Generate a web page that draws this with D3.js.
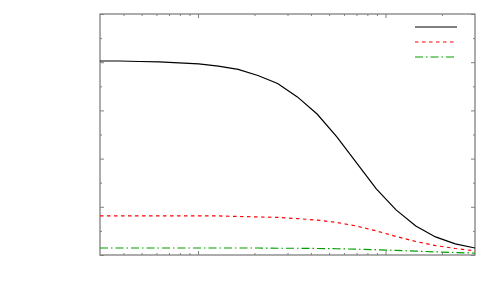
<!DOCTYPE html>
<html>
<head>
<meta charset="utf-8">
<script src="https://cdn.jsdelivr.net/npm/d3@7"></script>
<style>
  html, body { margin: 0; padding: 0; background: #fff; }
  svg { display: block; }
</style>
</head>
<body>
<svg id="chart" width="500" height="300"></svg>
<script>
// ---- data ----
const xValues = d3.range(20).map(i => 3 * Math.pow(10, 2 * i / 19)); // 20 log-spaced samples
const seriesA = [0.805, 0.805, 0.803, 0.801, 0.797, 0.793, 0.784, 0.770, 0.745, 0.712,
                 0.656, 0.585, 0.490, 0.382, 0.274, 0.187, 0.120, 0.075, 0.046, 0.029];
const seriesB = [0.162, 0.162, 0.162, 0.162, 0.162, 0.162, 0.162, 0.160, 0.158, 0.156,
                 0.151, 0.145, 0.135, 0.120, 0.100, 0.077, 0.056, 0.039, 0.027, 0.017];
const seriesC = [0.029, 0.029, 0.029, 0.029, 0.029, 0.029, 0.029, 0.029, 0.029, 0.028,
                 0.028, 0.027, 0.026, 0.024, 0.022, 0.019, 0.016, 0.013, 0.010, 0.008];
const seriesNames = ["", "", ""];
const xMajorTicks = [10, 100];
const xMinorTicks = [4, 5, 6, 7, 8, 9, 20, 30, 40, 50, 60, 70, 80, 90, 200];
const yMajorTicks = [0, 0.2, 0.4, 0.6, 0.8, 1.0];
const yMinorTicks = [0.1, 0.3, 0.5, 0.7, 0.9];

// ---- layout ----
const svg = d3.select("#chart");
const L = 100, R = 475, T = 14, B = 255;
const x = d3.scaleLog().domain([3, 300]).range([L, R]);
const y = d3.scaleLinear().domain([0, 1]).range([B, T]);
const axisColor = "#808080";

function styleAxis(g) {
  g.select(".domain").remove();
  g.selectAll(".tick line").attr("stroke", axisColor).attr("stroke-width", 1);
  g.selectAll(".tick text").remove();
}
const majLen = 4, minLen = 2;
// bottom / top
svg.append("g").attr("transform", `translate(0,${B})`)
  .call(d3.axisBottom(x).tickValues(xMajorTicks).tickSize(-majLen).tickFormat("")).call(styleAxis);
svg.append("g").attr("transform", `translate(0,${B})`)
  .call(d3.axisBottom(x).tickValues(xMinorTicks).tickSize(-minLen).tickFormat("")).call(styleAxis);
svg.append("g").attr("transform", `translate(0,${T})`)
  .call(d3.axisTop(x).tickValues(xMajorTicks).tickSize(-majLen).tickFormat("")).call(styleAxis);
svg.append("g").attr("transform", `translate(0,${T})`)
  .call(d3.axisTop(x).tickValues(xMinorTicks).tickSize(-minLen).tickFormat("")).call(styleAxis);
// left / right
svg.append("g").attr("transform", `translate(${L},0)`)
  .call(d3.axisLeft(y).tickValues(yMajorTicks).tickSize(-majLen).tickFormat("")).call(styleAxis);
svg.append("g").attr("transform", `translate(${L},0)`)
  .call(d3.axisLeft(y).tickValues(yMinorTicks).tickSize(-minLen).tickFormat("")).call(styleAxis);
svg.append("g").attr("transform", `translate(${R},0)`)
  .call(d3.axisRight(y).tickValues(yMajorTicks).tickSize(-majLen).tickFormat("")).call(styleAxis);
svg.append("g").attr("transform", `translate(${R},0)`)
  .call(d3.axisRight(y).tickValues(yMinorTicks).tickSize(-minLen).tickFormat("")).call(styleAxis);

// frame
svg.append("rect").attr("x", L).attr("y", T).attr("width", R - L).attr("height", B - T)
  .attr("fill", "none").attr("stroke", axisColor).attr("stroke-width", 1.3);

// series
const series = [
  { name: seriesNames[0], values: seriesA, color: "#000000", dash: null, width: 1.2 },
  { name: seriesNames[1], values: seriesB, color: "#ff0000", dash: "3.5,3.5", width: 1.2 },
  { name: seriesNames[2], values: seriesC, color: "#00a000", dash: "8,3,1.5,3", width: 1.2 }
];
const line = d3.line().x((d, i) => x(xValues[i])).y(d => y(d));
series.forEach(s => {
  svg.append("path").datum(s.values)
    .attr("d", line)
    .attr("fill", "none")
    .attr("stroke", s.color)
    .attr("stroke-width", s.width)
    .attr("stroke-dasharray", s.dash);
});

// legend
const legend = svg.append("g");
series.forEach((s, i) => {
  const ly = 27 + i * 15;
  legend.append("line").attr("x1", 415).attr("x2", 457).attr("y1", ly).attr("y2", ly)
    .attr("stroke", s.color).attr("stroke-width", s.width).attr("stroke-dasharray", s.dash);
  legend.append("text").attr("x", 410).attr("y", ly + 4).attr("text-anchor", "end")
    .attr("font-family", "Liberation Sans, Arial, sans-serif").attr("font-size", 11)
    .text(s.name);
});
</script>
</body>
</html>
